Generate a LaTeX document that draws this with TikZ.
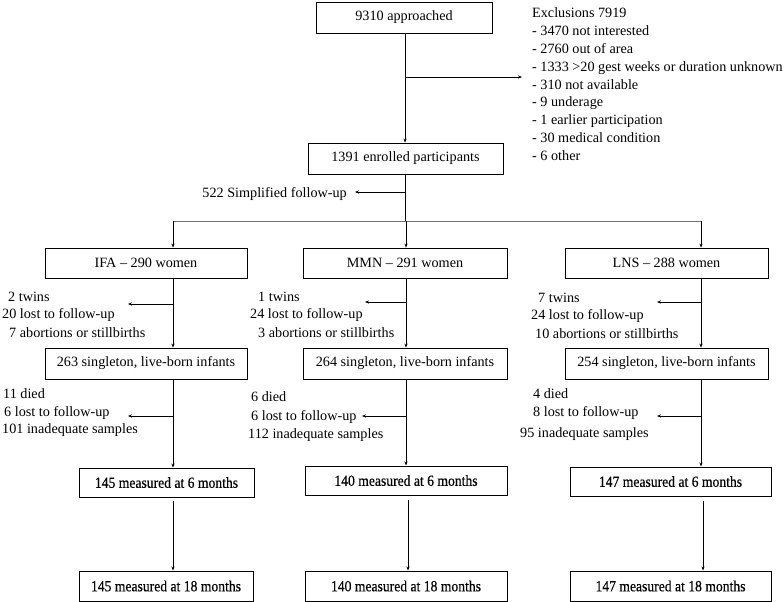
\documentclass[tikz,border=0pt]{standalone}
\usepackage{fontspec}
\setmainfont{Liberation Serif}
\newfontfamily\condfont[FakeStretch=0.88,FakeBold=0.4]{Liberation Serif}
\usetikzlibrary{arrows.meta,calc}
\begin{document}
\begin{tikzpicture}[x=1pt,y=-1pt,
  every node/.style={inner sep=0pt,font=\fontsize{14.2}{17}\selectfont},
  box/.style={draw,line width=0.8pt,minimum height=31pt},
  mbox/.style={draw,line width=1pt,minimum height=30pt,font=\condfont\fontsize{15.5}{17}\selectfont},
  txt/.style={anchor=base west},
  conn/.style={line width=0.8pt},
  arr/.style={conn,-{Stealth[length=4pt,width=3.2pt]}},
  grayline/.style={line width=0.8pt,draw=black!55}]
\useasboundingbox (0,0) rectangle (784,602);

% top boxes
\node[box,minimum width=176pt] (app) at (404,17.5) {9310 approached};
\node[box,minimum width=195pt] (enr) at (405.5,158.5) {1391 enrolled participants};

\node[txt] (ex0) at (532,18) {Exclusions 7919};
\node[txt] (ex1) at (532,35.75) {- 3470 not interested};
\node[txt] (ex2) at (532,53.5) {- 2760 out of area};
\node[txt] (ex3) at (532,71.25) {- 1333 >20 gest weeks or duration unknown};
\node[txt] (ex4) at (532,89) {- 310 not available};
\node[txt] (ex5) at (532,106.75) {- 9 underage};
\node[txt] (ex6) at (532,124.5) {- 1 earlier participation};
\node[txt] (ex7) at (532,142.25) {- 30 medical condition};
\node[txt] (ex8) at (532,160) {- 6 other};

\node[anchor=base east] (simp) at (347,197) {522 Simplified follow-up};

% columns
\coordinate (xA) at (173,0);
\coordinate (xB) at (406,0);
\coordinate (xC) at (701,0);

\node[box,minimum width=202pt,minimum height=30pt] (ifa) at (146,263) {IFA -- 290 women};
\node[box,minimum width=204pt,minimum height=30pt] (mmn) at (405,263) {MMN -- 291 women};
\node[box,minimum width=203pt,minimum height=30pt] (lns) at (666.5,263) {LNS -- 288 women};

\node[box,minimum width=202pt] (sA) at (146,363.5) {263 singleton, live-born infants};
\node[box,minimum width=204pt] (sB) at (405,363.5) {264 singleton, live-born infants};
\node[box,minimum width=203pt] (sC) at (666.5,363.5) {254 singleton, live-born infants};

\node[mbox,minimum width=175pt,minimum height=29pt] (mA6) at (166.5,482.5) {145 measured at 6 months};
\node[mbox,minimum width=202pt,minimum height=29pt] (mB6) at (406,480.5) {140 measured at 6 months};
\node[mbox,minimum width=201pt,minimum height=29pt] (mC6) at (670.5,481.5) {147 measured at 6 months};

\node[mbox,minimum width=174pt] (mA18) at (166,586) {145 measured at 18 months};
\node[mbox,minimum width=202pt] (mB18) at (406,586) {140 measured at 18 months};
\node[mbox,minimum width=201pt] (mC18) at (670.5,586) {147 measured at 18 months};

% side texts
\node[txt] (a1) at (8,301) {2 twins};
\node[txt] (a2) at (2,318) {20 lost to follow-up};
\node[txt] (a3) at (9,337) {7 abortions or stillbirths};
\node[txt] (a4) at (3,398) {11 died};
\node[txt] (a5) at (4,416) {6 lost to follow-up};
\node[txt] (a6) at (2,433) {101 inadequate samples};

\node[txt] (b1) at (258,301) {1 twins};
\node[txt] (b2) at (250,318) {24 lost to follow-up};
\node[txt] (b3) at (258,337) {3 abortions or stillbirths};
\node[txt] (b4) at (251,401) {6 died};
\node[txt] (b5) at (251,420) {6 lost to follow-up};
\node[txt] (b6) at (248,438) {112 inadequate samples};

\node[txt] (c1) at (538,302) {7 twins};
\node[txt] (c2) at (531,319) {24 lost to follow-up};
\node[txt] (c3) at (535,338) {10 abortions or stillbirths};
\node[txt] (c4) at (533,398) {4 died};
\node[txt] (c5) at (533,416) {8 lost to follow-up};
\node[txt] (c6) at (520,437) {95 inadequate samples};

% connectors top
\coordinate (exb) at (405,77);
\coordinate (ext) at (522,77);
\draw[arr] (app.south -| exb) -- (enr.north -| exb);
\draw[arr] (exb) -- (ext);
\coordinate (spl) at (405,192);
\coordinate (splt) at (355,192);
\coordinate (dist) at (405,221);
\draw[conn] (enr.south -| dist) -- (dist);
\draw[arr] (spl) -- (splt);
\draw[grayline] (dist -| xA) -- (dist -| xC);
\draw[arr] (dist -| xA) -- (ifa.north -| xA);
\draw[arr] (dist -| xB) -- (mmn.north -| xB);
\draw[arr] (dist -| xC) -- (lns.north -| xC);

% column verticals
\draw[arr] (ifa.south -| xA) -- (sA.north -| xA);
\draw[arr] (mmn.south -| xB) -- (sB.north -| xB);
\draw[arr] (lns.south -| xC) -- (sC.north -| xC);
\draw[arr] (sA.south -| xA) -- (mA6.north -| xA);
\draw[arr] (sB.south -| xB) -- (mB6.north -| xB);
\draw[arr] (sC.south -| xC) -- (mC6.north -| xC);
\draw[arr] ($(mA6.south -| xA)+(0,3)$) -- (mA18.north -| xA);
\draw[arr] ($(mB6.south -| xB)+(2,4)$) -- ($(mB18.north -| xB)+(2,0)$);
\draw[arr] ($(mC6.south -| xC)+(2,4)$) -- ($(mC18.north -| xC)+(2,0)$);

% branch arrows
\coordinate (tA1) at (128,304);
\coordinate (tB1) at (365,302);
\coordinate (tC1) at (657,302);
\coordinate (tA2) at (128,416);
\coordinate (tB2) at (362,416);
\coordinate (tC2) at (657,416);
\draw[arr] (tA1 -| xA) -- (tA1);
\draw[arr] (tB1 -| xB) -- (tB1);
\draw[arr] (tC1 -| xC) -- (tC1);
\draw[arr] (tA2 -| xA) -- (tA2);
\draw[arr] (tB2 -| xB) -- (tB2);
\draw[arr] (tC2 -| xC) -- (tC2);
\end{tikzpicture}
\end{document}
